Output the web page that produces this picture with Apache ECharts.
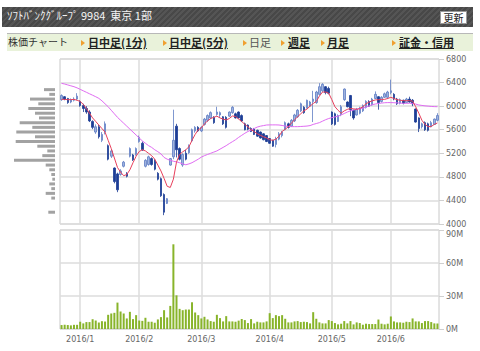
<!DOCTYPE html>
<html><head><meta charset="utf-8">
<script src="https://cdn.jsdelivr.net/npm/echarts@6/dist/echarts.min.js"></script>
<style>
html,body{margin:0;padding:0;background:#fff;width:480px;height:351px;overflow:hidden;}
#c{position:absolute;left:0;top:0;width:480px;height:351px;}
#title{position:absolute;left:2px;top:7px;width:471px;height:20px;
 background:repeating-linear-gradient(135deg,#484848 0 2px,#555 2px 4px);}
#title .t{position:absolute;left:5px;top:0;line-height:20px;color:#f4f4f4;font:11px "Noto Sans CJK JP",sans-serif;white-space:pre;}
#title .b{position:absolute;left:438px;top:4px;width:25px;height:11px;background:#fff;border:1px solid #999;
 font:10px "Noto Sans CJK JP",sans-serif;line-height:11px;text-align:center;color:#222;}
#tabs{position:absolute;left:7px;top:33px;width:466px;height:17px;background:#e9f2da;border-top:1px solid #b8b8b8;}
#tabs span{position:absolute;top:0;line-height:17px;font:11px "Noto Sans CJK JP",sans-serif;color:#222;white-space:nowrap;}
#tabs .a{font-weight:bold;text-decoration:underline;}
#tabs .g{color:#555;}
#tabs i{position:absolute;top:6px;width:0;height:0;border-left:4px solid #f0a030;border-top:3px solid transparent;border-bottom:3px solid transparent;}
</style></head>
<body>
<div id="c"></div>
<div id="title"><span class="t">ｿﾌﾄﾊﾞﾝｸｸﾞﾙｰﾌﾟ 9984  東京 1部</span><span class="b">更新</span></div>
<div id="tabs">
 <span style="left:1px;font-size:10px;color:#333">株価チャート</span>
 <i style="left:74px"></i><span class="a" style="left:81px">日中足(1分)</span>
 <i style="left:156px"></i><span class="a" style="left:162px">日中足(5分)</span>
 <i style="left:236px"></i><span class="g" style="left:242px">日足</span>
 <i style="left:274px"></i><span class="a" style="left:281px">週足</span>
 <i style="left:314px"></i><span class="a" style="left:320px">月足</span>
 <i style="left:385px"></i><span class="a" style="left:392px">証金・信用</span>
</div>
<script>
// trading days per month
const decDays = [22,24,25,28,29,30];
const janDays = [4,5,6,7,8,12,13,14,15,18,19,20,21,22,25,26,27,28,29];
const febDays = [1,2,3,4,5,8,9,10,12,15,16,17,18,19,22,23,24,25,26,29];
const marDays = [1,2,3,4,7,8,9,10,11,14,15,16,17,18,22,23,24,25,28,29,30,31];
const aprDays = [1,4,5,6,7,8,11,12,13,14,15,18,19,20,21,22,25,26,27,28];
const mayDays = [2,6,9,10,11,12,13,16,17,18,19,20,23,24,25,26,27,30,31];
const junDays = [1,2,3,6,7,8,9,10,13,14,15,16,17,20,21,22];

// [open, close, low, high]
const candles = [
[6110,6180,6090,6200],[6160,6120,6100,6170],[6130,6060,6040,6140],[6070,6110,6050,6130],[6100,6120,6080,6150],
[6120,6170,6100,6220],[6080,6010,5990,6100],[6010,5960,5900,6040],[5960,5900,5870,6000],[5900,5750,5730,5930],
[5740,5640,5610,5760],[5560,5650,5530,5690],[5650,5480,5450,5680],[5420,5520,5390,5560],[5560,5700,5520,5740],
[5330,5100,5080,5350],[5150,5240,5120,5270],[4950,4720,4690,4960],[4850,4580,4540,4870],[4840,4900,4820,4930],
[4980,5050,4960,5070],[4860,4810,4790,4880],[5150,5280,5130,5300],[5170,5090,5070,5190],[5180,5280,5160,5300],
[5400,5470,5380,5500],[5370,5260,5240,5400],[4980,5080,4960,5100],[5010,5140,4990,5160],[5110,5010,4990,5130],
[5080,4930,4910,5100],[4860,4760,4740,4880],[4770,4480,4460,4790],[4500,4200,4150,4520],[4350,4430,4340,4440],
[5000,5110,4990,5120],[5140,5420,5100,5940],[5660,5260,5130,5700],[5280,5100,5080,5300],[5000,5180,4970,5200],
[5200,5100,5080,5260],[5210,5330,5190,5350],[5410,5600,5390,5620],[5580,5640,5550,5660],[5640,5580,5560,5660],
[5580,5640,5560,5660],[5690,5780,5670,5800],[5760,5840,5730,5860],[5800,5890,5780,5910],[5810,5720,5700,5830],
[5860,5900,5840,5990],[5850,5890,5800,5910],[5820,5700,5680,5830],[5810,5640,5620,5830],[5830,5900,5820,5910],
[5890,5980,5870,6000],[5870,5800,5790,5890],[5900,5800,5790,5910],[5840,5750,5730,5860],[5700,5600,5590,5720],
[5680,5610,5590,5690],[5620,5570,5560,5640],[5610,5520,5510,5630],[5590,5490,5480,5600],[5560,5460,5450,5570],
[5530,5430,5420,5540],[5500,5400,5390,5510],[5450,5370,5360,5460],[5420,5320,5310,5430],[5350,5450,5300,5480],
[5440,5530,5420,5560],[5500,5560,5470,5580],[5600,5720,5590,5740],[5700,5640,5620,5720],[5660,5760,5650,5780],
[5750,5850,5730,5870],[5820,5930,5800,5950],[5920,6040,5900,6060],[5980,5890,5870,6000],[5970,6100,5960,6110],
[6000,6070,5990,6090],[6080,6120,5730,6260],[6060,6240,6040,6260],[6200,6330,6180,6390],[6260,6370,6240,6390],
[6330,6230,6200,6340],[6300,6220,6200,6330],[5900,5700,5680,5910],[5870,5690,5670,5890],[5740,5840,5730,5860],
[5860,5990,5830,6020],[6110,6290,6090,6300],[6070,5990,5980,6080],[6180,5940,5830,6190],[5930,5800,5770,5940],
[5850,5950,5840,5970],[5880,5970,5860,5990],[5920,6010,5900,6030],[5980,6080,5960,6100],[6080,6000,5990,6100],
[6020,6120,6010,6140],[6130,6200,6120,6250],[6160,6060,5940,6170],[6080,6150,6060,6170],[6150,6210,6140,6230],
[6150,6240,6120,6260],[6230,6260,6200,6450],[6200,6120,6100,6220],[6120,6040,6020,6140],[6050,6110,6030,6130],
[6100,6050,6030,6110],[6060,6120,6050,6140],[6120,6070,6060,6160],[6100,6040,6000,6120],[5950,5730,5720,5960],
[5800,5620,5560,5810],[5650,5700,5620,5720],[5720,5600,5580,5740],[5700,5590,5570,5720],[5650,5720,5640,5750],
[5690,5780,5680,5790],[5760,5840,5740,5880]
];

const ma5 = [
6115,6115,6110,6110,6115,6100,6080,6030,5960,5880,
5800,5740,5680,5620,5560,5420,5280,5120,4960,4880,
4820,4840,4920,5040,5150,5230,5260,5240,5200,5160,
5100,5000,4900,4775,4640,4620,4760,5050,5180,5225,
5260,5310,5420,5520,5600,5630,5700,5750,5790,5810,
5830,5800,5780,5765,5790,5833,5825,5780,5740,5690,
5650,5600,5570,5530,5505,5480,5460,5430,5420,5440,
5490,5570,5610,5650,5710,5770,5820,5870,5920,5950,
6000,6045,6080,6170,6240,6240,6220,6110,5990,5930,
5880,5920,5945,5960,5955,5945,5960,5990,6040,6070,
6090,6105,6110,6115,6115,6130,6150,6130,6110,6100,
6093,6093,6093,6085,5990,5880,5760,5690,5652,5655,
5690,5715];

const ma25 = [
6387,6375,6360,6345,6330,6310,6285,6260,6235,6210,
6185,6160,6132,6090,6040,5990,5930,5870,5810,5760,
5710,5660,5610,5560,5510,5460,5410,5370,5330,5300,
5260,5227,5190,5130,5100,5080,5065,5055,5040,5020,
5005,5020,5040,5070,5100,5135,5160,5180,5200,5220,
5240,5270,5300,5330,5365,5397,5430,5470,5505,5540,
5570,5595,5620,5645,5660,5670,5680,5682,5682,5682,
5680,5672,5662,5655,5652,5652,5652,5655,5658,5662,
5670,5690,5705,5720,5745,5770,5790,5805,5818,5830,
5850,5875,5900,5920,5935,5948,5958,5965,5985,6005,
6025,6036,6045,6052,6058,6060,6060,6058,6055,6052,
6048,6048,6048,6046,6035,6020,6012,6005,6000,5995,
5992,5990];

// volume, millions of shares
const volumeM = [
3.6,3.8,3.6,3.3,3.8,3.8,6.6,5.1,6.3,6.3,
8.9,7.7,5.9,7.1,6.8,12.9,14.1,14.7,24,15.9,
14.1,9.6,15.6,9,12.6,7.7,7.4,10.2,6.6,6.6,
5.7,8.7,10.8,17.1,10.5,21,77,30.6,18.3,17.1,
17.7,17.7,24.3,15,12.6,9.6,11.1,8.7,7.2,6.6,
12.9,9.9,6.9,11.7,6.9,6.9,6.6,7.6,9.1,8.1,
5.4,9,5.1,6.6,6,6,6.9,14.4,9.9,12.6,
11.7,12.6,9.3,6,6,6.9,7.2,6.3,6.6,6.3,
5.1,15.3,9.3,6,5.1,5.1,8.1,7.2,5.4,4.2,
4.8,7.2,5.1,7.2,4.2,6,5.4,3.9,4.8,4.5,
4.5,4.5,8.6,4.8,4.2,4.8,11.4,6.9,6,6,
5.7,6.6,6.3,9.6,6.9,6.9,5.4,7.2,7.2,6.3,
5.1,5];

// volume-by-price profile: 80-yen bins from 4000 up to 6800 (relative amount)
const priceBins = [4000,4080,4160,4240,4320,4400,4480,4560,4640,4720,4800,4880,4960,5040,5120,5200,5280,5360,5440,5520,
5600,5680,5760,5840,5920,6000,6080,6160,6240,6320,6400,6480,6560,6640,6720];
const profile = [0,0,6.7,0,0,3.7,9.3,3.7,5.7,2.7,3.7,5.7,9.3,41,12.7,7.7,17.7,39.3,20,38.7,
22.7,35.3,16,20,26.7,16.7,25,5.7,11,0,0,0,0,0,0];

const priceTicks = {min:4000, max:6800, step:400};
const volTicks = {min:0, max:90, step:30};

const dates = [];
[[2015,12,decDays],[2016,1,janDays],[2016,2,febDays],[2016,3,marDays],[2016,4,aprDays],[2016,5,mayDays],[2016,6,junDays]]
 .forEach(([y,m,ds])=>ds.forEach(d=>dates.push(y+'/'+m+'/'+d)));
const monthStart = dates.map((d,i)=> i>0 && d.split('/')[1] !== dates[i-1].split('/')[1]);
const isMonthStart = (i)=> !!monthStart[i];

const gridCol = '#dcdcdc';
const lblFont = {color:'#666', fontSize:8, fontFamily:'DejaVu Sans'};

const chart = echarts.init(document.getElementById('c'), null, {renderer:'svg', width:480, height:351});
chart.setOption({
  animation:false,
  grid:[
    {left:60, top:59, width:379, height:165, show:true, borderColor:'#c8c8c8', borderWidth:1, backgroundColor:'#fff'},
    {left:60, top:230, width:379, height:99, show:true, borderColor:'#c8c8c8', borderWidth:1},
    {left:0, top:59, width:55, height:165}
  ],
  xAxis:[
    {type:'category', gridIndex:0, data:dates, boundaryGap:true,
     axisLine:{show:false}, axisTick:{show:false}, axisLabel:{show:false},
     splitLine:{show:true, interval:isMonthStart, alignWithLabel:true, lineStyle:{color:gridCol, width:1.5}}},
    {type:'category', gridIndex:1, data:dates, boundaryGap:true,
     axisLine:{show:false}, axisTick:{show:false},
     axisLabel:Object.assign({show:true, interval:isMonthStart, margin:6,
       formatter:(v)=>v.split('/').slice(0,2).join('/')}, lblFont),
     splitLine:{show:true, interval:isMonthStart, alignWithLabel:true, lineStyle:{color:gridCol, width:1.5}}},
    {type:'value', gridIndex:2, inverse:true, min:0, max:55, show:false}
  ],
  yAxis:[
    {type:'value', gridIndex:0, position:'right', min:priceTicks.min, max:priceTicks.max, interval:priceTicks.step,
     axisLine:{show:false}, axisTick:{show:true, length:5, lineStyle:{color:'#cfcfcf'}},
     axisLabel:Object.assign({margin:7, formatter:(v)=>String(v)}, lblFont),
     splitLine:{show:true, lineStyle:{color:gridCol, width:1.5}}},
    {type:'value', gridIndex:1, position:'right', min:volTicks.min, max:volTicks.max, interval:volTicks.step,
     axisLine:{show:false}, axisTick:{show:true, length:5, lineStyle:{color:'#cfcfcf'}},
     axisLabel:Object.assign({margin:7, formatter:(v)=> v===volTicks.max ? '{a|'+v+'M}' : v+'M',
       rich:{a:Object.assign({padding:[9,0,0,0]}, lblFont)}}, lblFont),
     splitLine:{show:true, lineStyle:{color:gridCol, width:1.5}}},
    {type:'category', gridIndex:2, data:priceBins, show:false}
  ],
  series:[
    {type:'candlestick', xAxisIndex:0, yAxisIndex:0, data:candles, barWidth:2,
     itemStyle:{color:'#9fb3de', color0:'#1d3d96', borderColor:'#5f7ec4', borderColor0:'#1d3d96', borderWidth:0.8}},
    {type:'line', xAxisIndex:0, yAxisIndex:0, data:ma25, showSymbol:false, lineStyle:{color:'#e06cf2', width:1}},
    {type:'line', xAxisIndex:0, yAxisIndex:0, data:ma5, showSymbol:false, lineStyle:{color:'#e8405c', width:1}},
    {type:'bar', xAxisIndex:1, yAxisIndex:1, data:volumeM, barWidth:2, itemStyle:{color:'#88b42a'}},
    {type:'bar', xAxisIndex:2, yAxisIndex:2, data:profile, barWidth:3, itemStyle:{color:'#a2a2a2'}}
  ]
});
</script>
</body></html>
